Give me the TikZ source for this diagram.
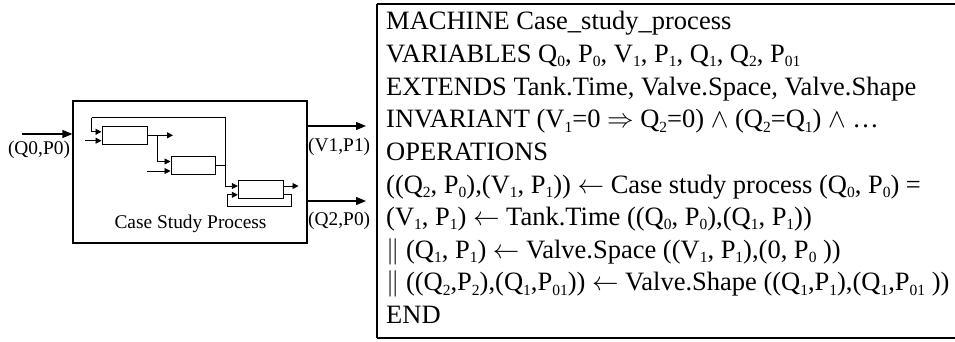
\documentclass[tikz,border=0pt]{standalone}
\usepackage{fix-cm}
\usepackage{fontspec}
\setmainfont{Liberation Serif}
\usetikzlibrary{arrows.meta}
\newcommand\sbx[1]{\raisebox{-0.16em}{\fontsize{15.5}{15.5}\selectfont #1}}
\tikzset{
  blk/.style={draw, line width=1pt},
  wire/.style={line width=0.9pt},
  sarr/.style={wire, -{Triangle[length=6pt,width=6pt]}},
  barr/.style={line width=1.2pt, -{Triangle[length=10pt,width=8pt]}},
  lbl/.style={inner sep=0pt, font=\fontsize{19.4}{20}\selectfont},
  txt/.style={anchor=base west, inner sep=0pt, font=\fontsize{26.5}{30}\selectfont},
}
\begin{document}
\begin{tikzpicture}[x=1pt,y=-1pt]
\useasboundingbox (0,0) rectangle (955,342);
% ---- left diagram ----
\node[blk, line width=1.2pt, minimum width=234pt, minimum height=142pt, inner sep=0pt] (outer) at (190,172) {};
\node[blk, minimum width=45pt, minimum height=17.3pt, inner sep=0pt] (b1) at (124.5,135.4) {};
\node[blk, minimum width=44pt, minimum height=17.3pt, inner sep=0pt] (b2) at (193,165.4) {};
\node[blk, minimum width=45pt, minimum height=18pt, inner sep=0pt] (b3) at (260.8,189.2) {};
\node[lbl] (cap) at (190.5,224) {Case Study Process};
% coordinates
\coordinate (tl) at (91.7,117.7);
\coordinate (tr) at (225.7,117.7);
\coordinate (in1b) at (85,140.7);
\coordinate (o1) at (173,135.3);
\coordinate (br) at (157.5,135.3);
\coordinate (in2b) at (146.7,171);
\coordinate (o3) at (298.5,186);
\coordinate (lr) at (291,194.8);
\coordinate (lb) at (227.5,206.7);
% wires
\draw[sarr] (tl) |- (b1.west |- 0,131.8);
\draw[wire] (tl) -- (tr);
\draw[sarr] (tr) |- (b3.west |- 0,186);
\draw[wire] (b2.east |- 0,165.2) -- (tr |- 0,165.2);
\draw[sarr] (in1b) -- (b1.west |- in1b);
\draw[sarr] (b1.east |- o1) -- (o1);
\draw[sarr] (br) |- (b2.west |- 0,161.5);
\draw[sarr] (in2b) -- (b2.west |- in2b);
\draw[sarr] (b3.east |- o3) -- (o3);
\draw[wire] (b3.east |- lr) -- (lr) |- (lb);
\draw[sarr] (lb) |- (b3.west |- 0,194.8);
% outer in/out
\coordinate (inS) at (22,134);
\coordinate (oV) at (366,126);
\coordinate (oQ) at (366,201);
\draw[barr] (inS) -- (outer.west |- inS);
\draw[barr] (outer.east |- oV) -- (oV);
\draw[barr] (outer.east |- oQ) -- (oQ);
\node[lbl] (lq0) at (39,150) {(Q0,P0)};
\node[lbl, anchor=west] (lv1) at (308,147) {(V1,P1)};
\node[lbl, anchor=west] (lq2) at (308,221) {(Q2,P0)};
% ---- right text box ----
\coordinate (tbtl) at (377,4);
\coordinate (tbtr) at (955,4);
\coordinate (tbbl) at (377,338);
\coordinate (tbbr) at (955,338);
\draw[line width=2.4pt] (tbtl) -- (tbtr);
\draw[line width=1.6pt] (tbbl) -- (tbbr);
\draw[line width=1.6pt] (tbtl) -- (tbbl);
\node[txt] (l1) at (386,30) {MACHINE Case\_study\_process};
\node[txt] (l2) at (386,62.6) {VARIABLES Q\sbx{0}, P\sbx{0}, V\sbx{1}, P\sbx{1}, Q\sbx{1}, Q\sbx{2}, P\sbx{01}};
\node[txt] (l3) at (386,95.2) {EXTENDS Tank.Time, Valve.Space, Valve.Shape};
\node[txt] (l4) at (386,127.8) {INVARIANT (V\sbx{1}=0 $\Rightarrow$ Q\sbx{2}=0) $\wedge$ (Q\sbx{2}=Q\sbx{1}) $\wedge$ …};
\node[txt] (l5) at (386,160.4) {OPERATIONS};
\node[txt] (l6) at (386,193) {((Q\sbx{2}, P\sbx{0}),(V\sbx{1}, P\sbx{1})) $\leftarrow$ Case study process (Q\sbx{0}, P\sbx{0}) =};
\node[txt] (l7) at (386,225.6) {(V\sbx{1}, P\sbx{1}) $\leftarrow$ Tank.Time ((Q\sbx{0}, P\sbx{0}),(Q\sbx{1}, P\sbx{1}))};
\node[txt] (l8) at (386,258.2) {$\|$ (Q\sbx{1}, P\sbx{1}) $\leftarrow$ Valve.Space ((V\sbx{1}, P\sbx{1}),(0, P\sbx{0} ))};
\node[txt] (l9) at (386,290.8) {$\|$ ((Q\sbx{2},P\sbx{2}),(Q\sbx{1},P\sbx{01})) $\leftarrow$ Valve.Shape ((Q\sbx{1},P\sbx{1}),(Q\sbx{1},P\sbx{01} ))};
\node[txt] (l10) at (386,323.4) {END};
\end{tikzpicture}
\end{document}
